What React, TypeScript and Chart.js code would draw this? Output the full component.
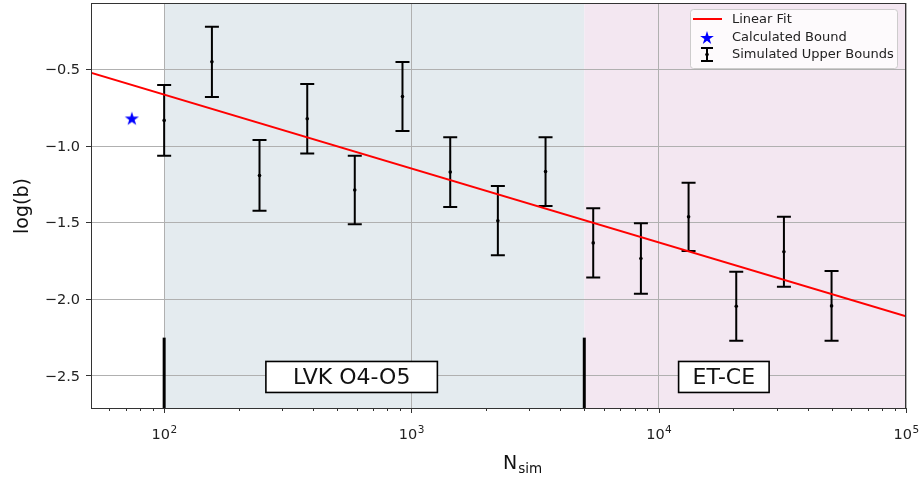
import React, { useEffect, useRef } from 'react';
import { Chart, registerables } from 'chart.js';

Chart.register(...registerables);

// ---- data ----
const nSim = [100, 156, 243, 379, 590, 920, 1435, 2236, 3486, 5434, 8471, 13205, 20584, 32086, 50000];
const bMean = [-0.833, -0.451, -1.192, -0.822, -1.287, -0.677, -1.17, -1.487, -1.167, -1.632, -1.734, -1.462, -2.045, -1.69, -2.043];
const bErr = [0.231, 0.229, 0.231, 0.226, 0.224, 0.225, 0.228, 0.226, 0.225, 0.226, 0.23, 0.223, 0.225, 0.228, 0.227];

const calcN = [74];
const calcB = [-0.82];

const fitN = [50, 100000];
const fitB = [-0.52, -2.11];

const lvkRange = [100, 5000];
const etRange = [5000, 100000];
const boundaryN = [100, 5000];
const boundaryTop = -2.25;

const yTicks = [-2.5, -2.0, -1.5, -1.0, -0.5];
const xMajor = [100, 1000, 10000, 100000];

const legendLabels = ['Linear Fit', 'Calculated Bound', 'Simulated Upper Bounds'];
const regionLabels = [
  { text: 'LVK O4-O5', n: 573, b: -2.5, padX: 27 },
  { text: 'ET-CE', n: 18340, b: -2.5, padX: 14 },
];

const X_MIN = 50.6;
const X_MAX = 100000;
const Y_MIN = -2.709;
const Y_MAX = -0.067;

const FONT = '"DejaVu Sans", sans-serif';

function isMajor(v: number) {
  const l = Math.log10(v);
  return Math.abs(l - Math.round(l)) < 1e-9;
}

function fmtY(v: number) {
  return (v < 0 ? '\u2212' : '') + Math.abs(v).toFixed(1);
}

function starPath(ctx: CanvasRenderingContext2D, cx: number, cy: number, R: number) {
  const r = R * 0.381966;
  ctx.beginPath();
  for (let i = 0; i < 10; i++) {
    const rad = i % 2 === 0 ? R : r;
    const a = -Math.PI / 2 + (i * Math.PI) / 5;
    const px = cx + rad * Math.cos(a);
    const py = cy + rad * Math.sin(a);
    if (i === 0) ctx.moveTo(px, py);
    else ctx.lineTo(px, py);
  }
  ctx.closePath();
}

function makeStar(): HTMLCanvasElement {
  const c = document.createElement('canvas');
  c.width = 18;
  c.height = 18;
  const g = c.getContext('2d')!;
  starPath(g, 9, 9.6, 7.4);
  g.fillStyle = '#0000ff';
  g.fill();
  return c;
}

const customPlugin = {
  id: 'customDraw',
  beforeDraw(chart: any) {
    const { ctx, chartArea: a, scales } = chart;
    const x = scales.x;
    ctx.save();
    ctx.fillStyle = '#ffffff';
    ctx.fillRect(0, 0, chart.width, chart.height);
    const l1 = x.getPixelForValue(lvkRange[0]);
    const l2 = x.getPixelForValue(lvkRange[1]);
    ctx.fillStyle = 'rgb(228,235,239)';
    ctx.fillRect(l1, a.top, l2 - l1, a.bottom - a.top);
    const e1 = x.getPixelForValue(etRange[0]);
    const e2 = x.getPixelForValue(etRange[1]);
    ctx.fillStyle = 'rgb(243,231,241)';
    ctx.fillRect(e1, a.top, e2 - e1, a.bottom - a.top);
    ctx.restore();
  },
  beforeDatasetsDraw(chart: any) {
    const { ctx, chartArea: a, scales } = chart;
    const x = scales.x;
    const y = scales.y;
    ctx.save();
    // error bars
    ctx.strokeStyle = '#000';
    ctx.lineWidth = 2;
    for (let i = 0; i < nSim.length; i++) {
      const px = x.getPixelForValue(nSim[i]);
      const top = y.getPixelForValue(bMean[i] + bErr[i]);
      const bot = y.getPixelForValue(bMean[i] - bErr[i]);
      ctx.beginPath();
      ctx.moveTo(px, top);
      ctx.lineTo(px, bot);
      ctx.moveTo(px - 7, top);
      ctx.lineTo(px + 7, top);
      ctx.moveTo(px - 7, bot);
      ctx.lineTo(px + 7, bot);
      ctx.stroke();
    }
    // boundary lines
    ctx.lineWidth = 3;
    for (const n of boundaryN) {
      const px = x.getPixelForValue(n);
      ctx.beginPath();
      ctx.moveTo(px, a.bottom);
      ctx.lineTo(px, y.getPixelForValue(boundaryTop));
      ctx.stroke();
    }
    ctx.restore();
  },
  afterDatasetsDraw(chart: any) {
    const { ctx, chartArea: a, scales } = chart;
    const x = scales.x;
    const y = scales.y;
    ctx.save();
    // region text boxes
    ctx.font = `22px ${FONT}`;
    ctx.textAlign = 'center';
    ctx.textBaseline = 'middle';
    for (const r of regionLabels) {
      const cx = x.getPixelForValue(r.n);
      const cy = y.getPixelForValue(r.b);
      const w = ctx.measureText(r.text).width + 2 * r.padX;
      const h = 31;
      ctx.fillStyle = '#ffffff';
      ctx.fillRect(cx - w / 2, cy - h / 2 + 1, w, h);
      ctx.strokeStyle = '#000';
      ctx.lineWidth = 1.6;
      ctx.strokeRect(cx - w / 2, cy - h / 2 + 1, w, h);
      ctx.fillStyle = '#111';
      ctx.fillText(r.text, cx, cy + 2);
    }

    // frame
    ctx.strokeStyle = '#333';
    ctx.lineWidth = 1;
    ctx.strokeRect(Math.round(a.left) + 0.5, Math.round(a.top) + 0.5, Math.round(a.right - a.left) - 1, Math.round(a.bottom - a.top));

    // x tick marks (major + minor)
    ctx.beginPath();
    for (let e = 1; e <= 5; e++) {
      for (let m = 1; m <= 9; m++) {
        const v = m * Math.pow(10, e);
        if (v < X_MIN || v > X_MAX) continue;
        const px = Math.round(x.getPixelForValue(v)) + 0.5;
        const len = m === 1 ? 5 : 3;
        ctx.moveTo(px, a.bottom);
        ctx.lineTo(px, a.bottom + len);
      }
    }
    ctx.stroke();

    // x tick labels: 10 with superscript exponent
    ctx.fillStyle = '#222';
    ctx.textAlign = 'left';
    ctx.textBaseline = 'alphabetic';
    for (const v of xMajor) {
      const px = x.getPixelForValue(v);
      const exp = String(Math.round(Math.log10(v)));
      ctx.font = `14.5px ${FONT}`;
      const wBase = ctx.measureText('10').width;
      ctx.font = `10.5px ${FONT}`;
      const wExp = ctx.measureText(exp).width;
      const left = px - (wBase + wExp) / 2;
      ctx.font = `14.5px ${FONT}`;
      ctx.fillText('10', left, 438.5);
      ctx.font = `10.5px ${FONT}`;
      ctx.fillText(exp, left + wBase + 0.5, 433);
    }

    // y tick labels
    ctx.font = `14.5px ${FONT}`;
    ctx.fillStyle = '#222';
    ctx.textAlign = 'right';
    ctx.textBaseline = 'middle';
    for (const v of yTicks) {
      ctx.fillText(fmtY(v), a.left - 11, y.getPixelForValue(v) + 1);
    }

    // legend
    const lx = 690.5, ly = 9.5, lw = 207, lh = 59;
    ctx.beginPath();
    const rr = 3;
    ctx.moveTo(lx + rr, ly);
    ctx.lineTo(lx + lw - rr, ly);
    ctx.quadraticCurveTo(lx + lw, ly, lx + lw, ly + rr);
    ctx.lineTo(lx + lw, ly + lh - rr);
    ctx.quadraticCurveTo(lx + lw, ly + lh, lx + lw - rr, ly + lh);
    ctx.lineTo(lx + rr, ly + lh);
    ctx.quadraticCurveTo(lx, ly + lh, lx, ly + lh - rr);
    ctx.lineTo(lx, ly + rr);
    ctx.quadraticCurveTo(lx, ly, lx + rr, ly);
    ctx.closePath();
    ctx.fillStyle = 'rgba(255,255,255,0.8)';
    ctx.fill();
    ctx.strokeStyle = 'rgba(200,200,200,0.9)';
    ctx.lineWidth = 1;
    ctx.stroke();

    const rows = [19, 37.5, 54.5];
    // linear fit symbol
    ctx.strokeStyle = '#ff0000';
    ctx.lineWidth = 2;
    ctx.beginPath();
    ctx.moveTo(693, rows[0]);
    ctx.lineTo(722, rows[0]);
    ctx.stroke();
    // star
    starPath(ctx, 707, rows[1] + 0.6, 7.2);
    ctx.fillStyle = '#0000ff';
    ctx.fill();
    // errorbar symbol
    ctx.strokeStyle = '#000';
    ctx.lineWidth = 2;
    ctx.beginPath();
    ctx.moveTo(707, rows[2] - 6.5);
    ctx.lineTo(707, rows[2] + 6.5);
    ctx.moveTo(701, rows[2] - 6.5);
    ctx.lineTo(713, rows[2] - 6.5);
    ctx.moveTo(701, rows[2] + 6.5);
    ctx.lineTo(713, rows[2] + 6.5);
    ctx.stroke();
    ctx.beginPath();
    ctx.arc(707, rows[2], 1.8, 0, Math.PI * 2);
    ctx.fillStyle = '#000';
    ctx.fill();

    ctx.font = `13px ${FONT}`;
    ctx.fillStyle = '#222';
    ctx.textAlign = 'left';
    ctx.textBaseline = 'middle';
    legendLabels.forEach((t, i) => ctx.fillText(t, 732, rows[i] + 0.5));

    // axis titles
    ctx.fillStyle = '#111';
    ctx.font = `19px ${FONT}`;
    ctx.textAlign = 'left';
    ctx.textBaseline = 'alphabetic';
    ctx.fillText('N', 503, 468.5);
    const nW = ctx.measureText('N').width;
    ctx.font = `13.5px ${FONT}`;
    ctx.fillText('sim', 503 + nW + 1, 473);

    ctx.save();
    ctx.translate(23, 206);
    ctx.rotate(-Math.PI / 2);
    ctx.font = `19px ${FONT}`;
    ctx.textAlign = 'center';
    ctx.textBaseline = 'middle';
    ctx.fillText('log(b)', 0, 0);
    ctx.restore();

    ctx.restore();
  },
};

export default function App() {
  const ref = useRef<HTMLCanvasElement | null>(null);

  useEffect(() => {
    if (!ref.current) return;
    const star = makeStar();
    const chart = new Chart(ref.current, {
      type: 'scatter',
      data: {
        datasets: [
          {
            type: 'line',
            label: legendLabels[0],
            data: fitN.map((n, i) => ({ x: n, y: fitB[i] })),
            borderColor: '#ff0000',
            borderWidth: 2,
            pointRadius: 0,
            fill: false,
          } as any,
          {
            label: legendLabels[1],
            data: calcN.map((n, i) => ({ x: n, y: calcB[i] })),
            pointStyle: star,
            pointRadius: 8,
          },
          {
            label: legendLabels[2],
            data: nSim.map((n, i) => ({ x: n, y: bMean[i] })),
            pointRadius: 1.8,
            backgroundColor: '#000',
            borderColor: '#000',
            borderWidth: 0,
          },
        ],
      },
      options: {
        responsive: false,
        maintainAspectRatio: false,
        devicePixelRatio: 1,
        animation: false,
        events: [],
        layout: { autoPadding: false, padding: { left: 0, right: 16, top: 3, bottom: 0 } },
        plugins: {
          legend: { display: false },
          tooltip: { enabled: false },
        },
        scales: {
          x: {
            type: 'logarithmic',
            position: 'bottom',
            min: X_MIN,
            max: X_MAX,
            afterBuildTicks: (s: any) => {
              s.ticks = xMajor.map((v) => ({ value: v, major: true }));
            },
            afterFit: (s: any) => {
              s.height = 70;
              s.paddingLeft = 0;
              s.paddingRight = 0;
            },
            ticks: { display: false },
            grid: {
              color: '#b0b0b0',
              lineWidth: 1,
              drawTicks: false,
            },
            border: { display: true, color: '#333', width: 1 },
          },
          y: {
            type: 'linear',
            min: Y_MIN,
            max: Y_MAX,
            afterBuildTicks: (s: any) => {
              s.ticks = yTicks.map((v) => ({ value: v }));
            },
            afterFit: (s: any) => {
              s.width = 91;
              s.paddingTop = 0;
              s.paddingBottom = 0;
            },
            ticks: { display: false },
            grid: {
              color: '#b0b0b0',
              lineWidth: 1,
              tickColor: '#333',
              tickLength: 5,
              drawTicks: true,
            },
            border: { display: true, color: '#333', width: 1 },
          },
        },
      },
      plugins: [customPlugin],
    } as any);
    return () => chart.destroy();
  }, []);

  return (
    <div style={{ position: 'fixed', left: 0, top: 0, width: 922, height: 478, background: '#fff' }}>
      <canvas ref={ref} width={922} height={478} style={{ display: 'block', width: 922, height: 478 }} />
    </div>
  );
}
